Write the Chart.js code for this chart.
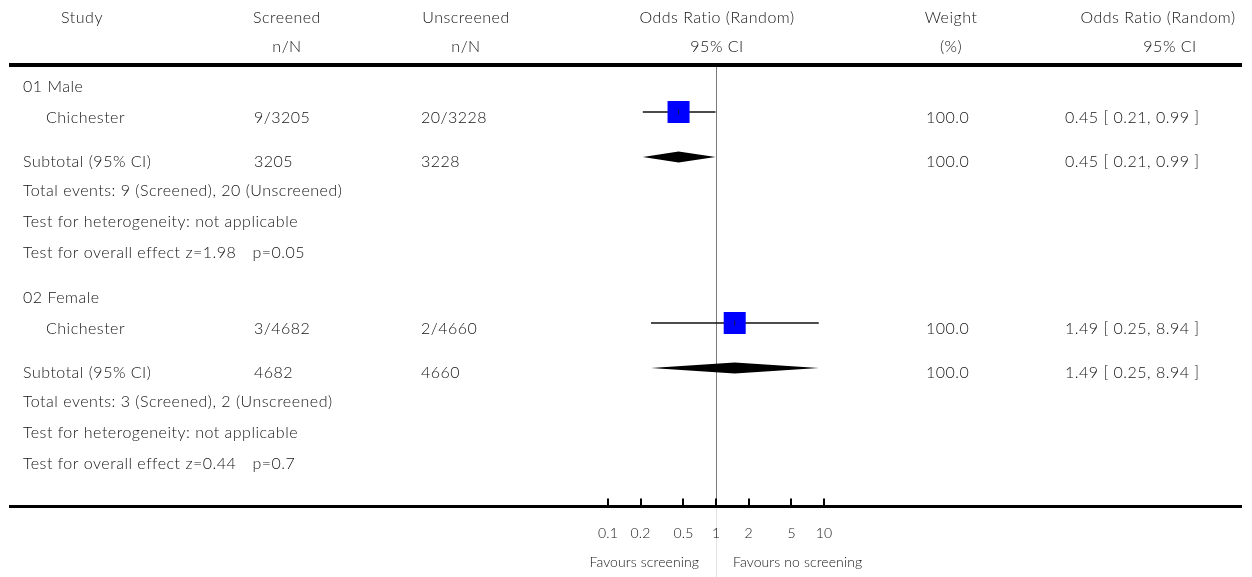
<!DOCTYPE html>
<html>
<head>
<meta charset="utf-8">
<script src="https://cdn.jsdelivr.net/npm/chart.js@4.4.1/dist/chart.umd.min.js"></script>
<style>
  html, body { margin: 0; padding: 0; background: #ffffff; }
  #wrap { width: 1252px; height: 577px; }
  canvas { display: block; }
</style>
</head>
<body>
<div id="wrap"><canvas id="forest" width="1252" height="577" style="width:1252px;height:577px"></canvas></div>
<script>
// ---- Data ---------------------------------------------------------------
const subgroups        = ['01 Male', '02 Female'];
const studyNames       = ['Chichester', 'Chichester'];
const screenedEvents   = [9, 3];
const screenedTotals   = [3205, 4682];
const unscreenedEvents = [20, 2];
const unscreenedTotals = [3228, 4660];
const studyWeights     = [100.0, 100.0];
const studyOR          = [0.45, 1.49];
const studyLower       = [0.21, 0.25];
const studyUpper       = [0.99, 8.94];
const subtotalOR       = [0.45, 1.49];
const subtotalLower    = [0.21, 0.25];
const subtotalUpper    = [0.99, 8.94];
const subtotalWeights  = [100.0, 100.0];
const heterogeneity    = ['not applicable', 'not applicable'];
const zValues          = ['1.98', '0.44'];
const pValues          = ['0.05', '0.7'];
const tickValues       = [0.1, 0.2, 0.5, 1, 2, 5, 10];
const tickLabels       = ['0.1', '0.2', '0.5', '1', '2', '5', '10'];

// ---- Layout (canvas pixels; the y scale runs 0..577 top to bottom) -------
const W = 1252, H = 577;
const BLOCK_TOP = [0, 211];               // vertical offset of each subgroup block
const ROW = {                             // text baselines inside a block
  header: 92, study: 123, subtotal: 167, events: 196, het: 227, overall: 258
};
const MARK = { study: 112, subtotal: 157 }; // centre lines of square / diamond
const COL = {
  studyHead: 82, indentL: 23, indentS: 46,
  scrHead: 287, scrData: 254,
  unsHead: 466, unsData: 421,
  orHead: 717,
  wHead: 951, wData: 926,
  ciHead: 1158, ciHead2: 1170, ciData: 1065
};
const HEAD_Y = [23, 52];
const RULE_TOP = 65, AXIS_Y = 506.5;
const LINE_L = 9, LINE_R = 1242;
const FONT = '300 16px Lato, "Open Sans", sans-serif';
const SMALL = '300 14px Lato, "Open Sans", sans-serif';
const TEXT = '#141414';
const SQUARE_SIDE = 22;                   // side of a 100% weight square

const fmtOR = (o, l, u) => `${o.toFixed(2)} [ ${l.toFixed(2)}, ${u.toFixed(2)} ]`;

// Whisker datasets, one per study
const whiskers = studyOR.map((o, i) => ({
  type: 'line',
  data: [{ x: studyLower[i], y: BLOCK_TOP[i] + MARK.study },
         { x: studyUpper[i], y: BLOCK_TOP[i] + MARK.study }],
  borderColor: '#111111', borderWidth: 1.3, pointRadius: 0, clip: false, order: 3
}));

// Weighted squares
const squares = {
  type: 'scatter',
  data: studyOR.map((o, i) => ({ x: o, y: BLOCK_TOP[i] + MARK.study })),
  pointStyle: 'rect',
  pointRadius: studyWeights.map(w => (SQUARE_SIDE * Math.sqrt(w / 100)) / 2 / Math.SQRT1_2),
  backgroundColor: '#0000ff', borderColor: '#0000ff', borderWidth: 0,
  clip: false, order: 2
};

// Small vertical tick marking each point estimate
const estTicks = {
  type: 'scatter',
  data: studyOR.map((o, i) => ({ x: o, y: BLOCK_TOP[i] + MARK.study })),
  pointStyle: 'line', rotation: 90, pointRadius: 2.5,
  borderColor: '#10104a', borderWidth: 1, clip: false, order: 1
};

// Table text, reference line, pooled diamonds and the axis
const forestTable = {
  id: 'forestTable',
  beforeDatasetsDraw(chart) {
    const { ctx } = chart;
    const xs = chart.scales.x, ys = chart.scales.y;
    const x1 = Math.round(xs.getPixelForValue(1)) + 0.5;
    ctx.save();
    ctx.lineWidth = 1;
    ctx.strokeStyle = '#7a7a7a';
    ctx.beginPath();
    ctx.moveTo(x1, ys.getPixelForValue(RULE_TOP + 2));
    ctx.lineTo(x1, ys.getPixelForValue(AXIS_Y));
    ctx.stroke();
    ctx.strokeStyle = '#e2e2e2';
    ctx.beginPath();
    ctx.moveTo(x1, ys.getPixelForValue(AXIS_Y));
    ctx.lineTo(x1, ys.getPixelForValue(H));
    ctx.stroke();
    ctx.restore();
  },
  afterDatasetsDraw(chart) {
    const { ctx } = chart;
    const xs = chart.scales.x, ys = chart.scales.y;
    ctx.save();

    // pooled diamonds
    ctx.fillStyle = '#000000';
    subtotalOR.forEach((o, g) => {
      const yc = ys.getPixelForValue(BLOCK_TOP[g] + MARK.subtotal);
      const xl = xs.getPixelForValue(subtotalLower[g]);
      const xm = xs.getPixelForValue(o);
      const xh = xs.getPixelForValue(subtotalUpper[g]);
      ctx.beginPath();
      ctx.moveTo(xl, yc);
      ctx.lineTo(xm, yc - 5.5);
      ctx.lineTo(xh, yc);
      ctx.lineTo(xm, yc + 5.5);
      ctx.closePath();
      ctx.fill();
    });

    // horizontal rules
    ctx.fillStyle = '#000000';
    ctx.fillRect(LINE_L, RULE_TOP - 2, LINE_R - LINE_L, 4);
    ctx.fillRect(LINE_L, AXIS_Y - 1.5, LINE_R - LINE_L, 3);

    // axis ticks and labels
    ctx.font = SMALL;
    ctx.letterSpacing = '0.1px';
    ctx.textAlign = 'center';
    ctx.textBaseline = 'alphabetic';
    tickValues.forEach((v, i) => {
      const px = xs.getPixelForValue(v);
      ctx.fillStyle = '#000000';
      ctx.fillRect(Math.round(px) - 1, AXIS_Y - 8, 2, 8);
      ctx.fillStyle = TEXT;
      ctx.fillText(tickLabels[i], px, 538);
    });
    const xOne = xs.getPixelForValue(1);
    ctx.textAlign = 'right';
    ctx.fillText('Favours screening', xOne - 17, 567);
    ctx.textAlign = 'left';
    ctx.fillText('Favours no screening', xOne + 17, 567);

    // column headers
    ctx.font = FONT;
    ctx.letterSpacing = '0.5px';
    ctx.fillStyle = TEXT;
    ctx.textAlign = 'center';
    ctx.fillText('Study', COL.studyHead, HEAD_Y[0]);
    ctx.fillText('Screened', COL.scrHead, HEAD_Y[0]);
    ctx.fillText('n/N', COL.scrHead, HEAD_Y[1]);
    ctx.fillText('Unscreened', COL.unsHead, HEAD_Y[0]);
    ctx.fillText('n/N', COL.unsHead, HEAD_Y[1]);
    ctx.fillText('Odds Ratio (Random)', COL.orHead, HEAD_Y[0]);
    ctx.fillText('95% CI', COL.orHead, HEAD_Y[1]);
    ctx.fillText('Weight', COL.wHead, HEAD_Y[0]);
    ctx.fillText('(%)', COL.wHead, HEAD_Y[1]);
    ctx.fillText('Odds Ratio (Random)', COL.ciHead, HEAD_Y[0]);
    ctx.fillText('95% CI', COL.ciHead2, HEAD_Y[1]);

    // subgroup blocks
    ctx.textAlign = 'left';
    subgroups.forEach((name, g) => {
      const top = BLOCK_TOP[g];
      ctx.fillText(name, COL.indentL, top + ROW.header);

      ctx.fillText(studyNames[g], COL.indentS, top + ROW.study);
      ctx.fillText(`${screenedEvents[g]}/${screenedTotals[g]}`, COL.scrData, top + ROW.study);
      ctx.fillText(`${unscreenedEvents[g]}/${unscreenedTotals[g]}`, COL.unsData, top + ROW.study);
      ctx.fillText(studyWeights[g].toFixed(1), COL.wData, top + ROW.study);
      ctx.fillText(fmtOR(studyOR[g], studyLower[g], studyUpper[g]), COL.ciData, top + ROW.study);

      ctx.fillText('Subtotal (95% CI)', COL.indentL, top + ROW.subtotal);
      ctx.fillText(String(screenedTotals[g]), COL.scrData, top + ROW.subtotal);
      ctx.fillText(String(unscreenedTotals[g]), COL.unsData, top + ROW.subtotal);
      ctx.fillText(subtotalWeights[g].toFixed(1), COL.wData, top + ROW.subtotal);
      ctx.fillText(fmtOR(subtotalOR[g], subtotalLower[g], subtotalUpper[g]), COL.ciData, top + ROW.subtotal);

      ctx.fillText(`Total events: ${screenedEvents[g]} (Screened), ${unscreenedEvents[g]} (Unscreened)`,
                   COL.indentL, top + ROW.events);
      ctx.fillText(`Test for heterogeneity: ${heterogeneity[g]}`, COL.indentL, top + ROW.het);
      const zText = `Test for overall effect z=${zValues[g]}`;
      ctx.fillText(zText, COL.indentL, top + ROW.overall);
      ctx.fillText(`p=${pValues[g]}`, COL.indentL + ctx.measureText(zText).width + 16, top + ROW.overall);
    });

    ctx.restore();
  }
};

new Chart(document.getElementById('forest'), {
  data: { datasets: [...whiskers, squares, estTicks] },
  options: {
    responsive: false,
    animation: false,
    devicePixelRatio: 1,
    layout: { autoPadding: false, padding: { left: 608, right: 428, top: 0, bottom: 0 } },
    plugins: { legend: { display: false }, tooltip: { enabled: false } },
    scales: {
      x: { type: 'logarithmic', min: 0.1, max: 10, display: false },
      y: { type: 'linear', min: 0, max: H, reverse: true, display: false }
    }
  },
  plugins: [forestTable]
});
</script>
</body>
</html>
